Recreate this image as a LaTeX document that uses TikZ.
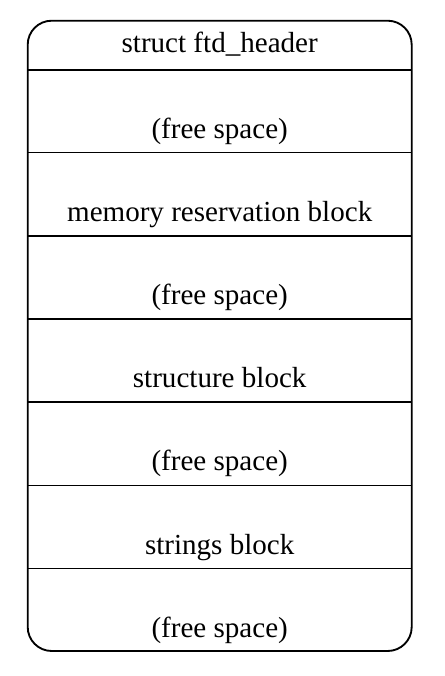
\documentclass[tikz,border=0pt]{standalone}
\usepackage{fontspec}
\setmainfont{Liberation Serif}
\begin{document}
\begin{tikzpicture}[x=0.75pt,y=-0.75pt,
  outline/.style={draw=black,line width=1.4pt},
  fieldtext/.style={anchor=base,inner sep=0pt,font=\fontsize{21.8}{24}\selectfont}]
\useasboundingbox (0,0) rectangle (445,676);
% outer record with rounded corners
\draw[outline,rounded corners=18pt] (27.7,20.7) rectangle (411.7,651);
% field separators
\foreach \yy in {70,152.5,235.7,319,402.3,485.5,568.5}
  \draw[outline] (27.7,\yy) -- (411.7,\yy);
% field labels
\node[fieldtext] (hdr)   at (219.7,52.5)  {struct ftd\_header};
\node[fieldtext] (free1) at (219.7,138)   {(free space)};
\node[fieldtext] (mem)   at (219.7,221)   {memory reservation block};
\node[fieldtext] (free2) at (219.7,304.2) {(free space)};
\node[fieldtext] (str)   at (219.7,387.5) {structure block};
\node[fieldtext] (free3) at (219.7,470.8) {(free space)};
\node[fieldtext] (strs)  at (219.7,554)   {strings block};
\node[fieldtext] (free4) at (219.7,637)   {(free space)};
\end{tikzpicture}
\end{document}
